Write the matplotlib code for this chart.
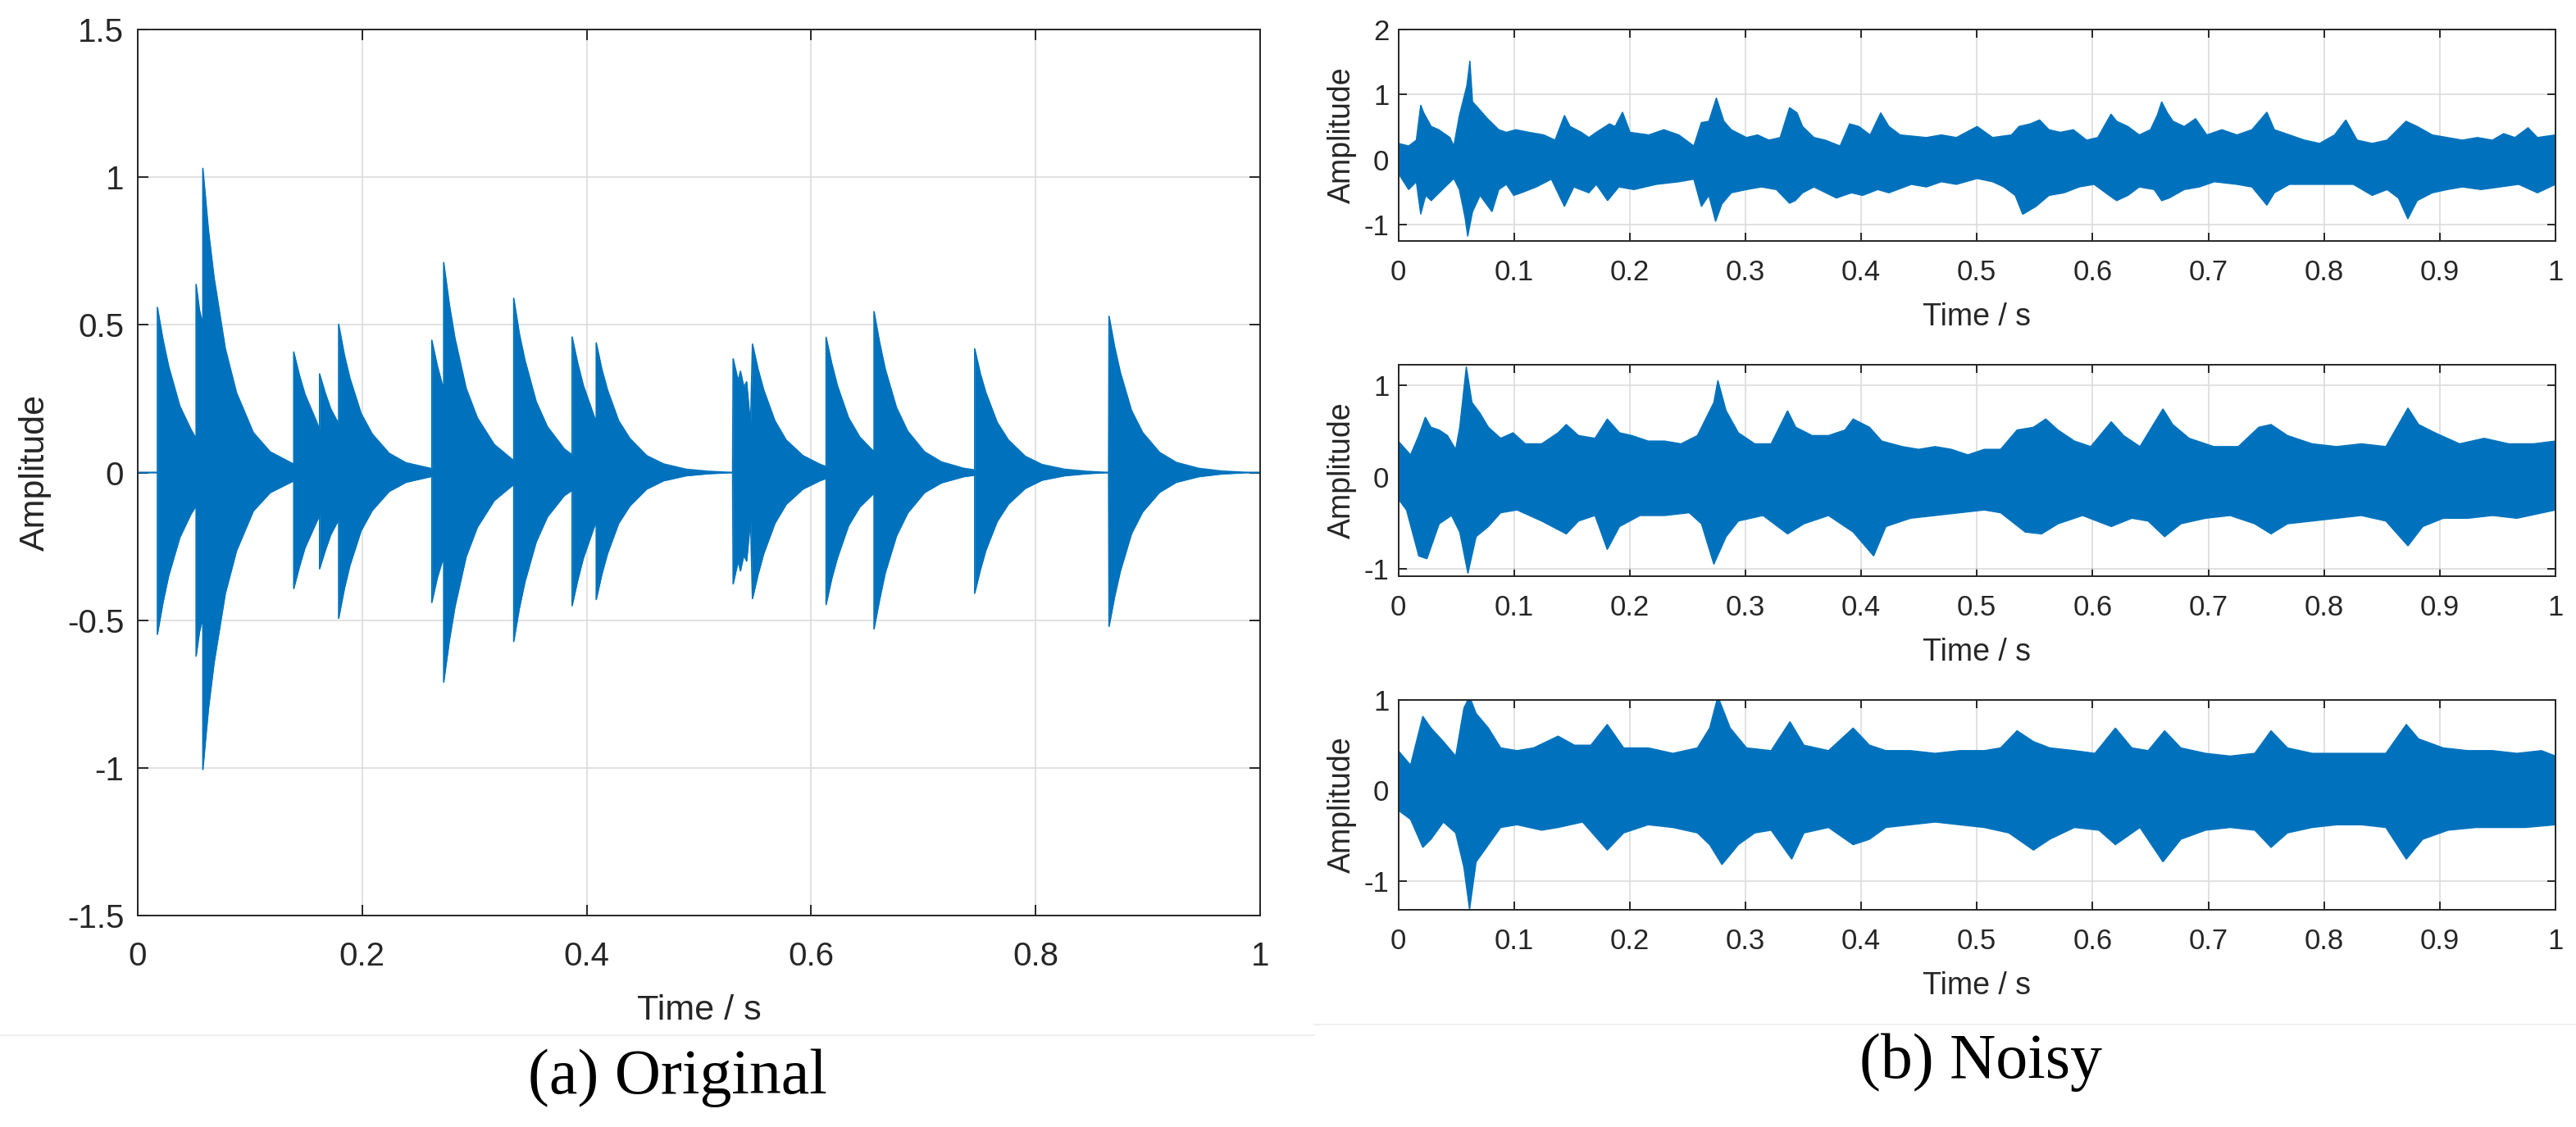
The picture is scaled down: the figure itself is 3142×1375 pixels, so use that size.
import numpy as np
import matplotlib
matplotlib.use("Agg")
import matplotlib.pyplot as plt
from matplotlib.lines import Line2D

plt.rcParams['font.family'] = ['Liberation Sans', 'DejaVu Sans']
plt.rcParams['axes.unicode_minus'] = False

BLUE = '#0072BD'

# ---------------- (a) Original: envelope vertices ----------------
orig_t = [0.0, 0.0175, 0.0175, 0.0225, 0.0275, 0.0375, 0.0475, 0.052,
          0.052, 0.055, 0.058,
          0.058, 0.063, 0.068, 0.078, 0.088, 0.103, 0.118, 0.138, 0.139,
          0.139, 0.144, 0.149, 0.159, 0.162,
          0.162, 0.167, 0.172, 0.179,
          0.179, 0.184, 0.189, 0.199, 0.209, 0.224, 0.239, 0.262,
          0.262, 0.267, 0.2726,
          0.2726, 0.2776, 0.2826, 0.2926, 0.3026, 0.3176, 0.335,
          0.335, 0.340, 0.345, 0.355, 0.365, 0.380, 0.387,
          0.387, 0.392, 0.397, 0.4085,
          0.4085, 0.4135, 0.4185, 0.4285, 0.4385, 0.4535, 0.4685, 0.4885, 0.5085, 0.530,
          0.5305, 0.535, 0.537, 0.540, 0.5425, 0.546, 0.5477, 0.5527, 0.5577, 0.5677, 0.5777, 0.5927, 0.6077, 0.6133,
          0.6133, 0.6183, 0.6233, 0.6333, 0.6433, 0.656,
          0.656, 0.661, 0.666, 0.676, 0.686, 0.701, 0.716, 0.736, 0.7457,
          0.7457, 0.7507, 0.7557, 0.7657, 0.7757, 0.7907, 0.8057, 0.8257, 0.8457, 0.865,
          0.8654, 0.8704, 0.8754, 0.8854, 0.8954, 0.9104, 0.9254, 0.9454, 0.9654, 0.990, 1.0]
orig_upper = [0.0, 0.0, 0.559, 0.45, 0.36, 0.225, 0.145, 0.115,
              0.637, 0.55, 0.50,
              1.03, 0.82, 0.66, 0.42, 0.27, 0.135, 0.07, 0.03, 0.028,
              0.408, 0.33, 0.265, 0.175, 0.145,
              0.334, 0.27, 0.215, 0.165,
              0.502, 0.40, 0.32, 0.20, 0.13, 0.065, 0.033, 0.013,
              0.448, 0.36, 0.28,
              0.711, 0.57, 0.455, 0.285, 0.185, 0.095, 0.04,
              0.59, 0.47, 0.38, 0.24, 0.155, 0.08, 0.06,
              0.459, 0.37, 0.295, 0.17,
              0.439, 0.35, 0.28, 0.175, 0.115, 0.057, 0.029, 0.011, 0.004, 0.0,
              0.385, 0.31, 0.343, 0.29, 0.307, 0.16, 0.435, 0.35, 0.28, 0.175, 0.11, 0.057, 0.028, 0.02,
              0.458, 0.37, 0.295, 0.185, 0.12, 0.07,
              0.545, 0.44, 0.35, 0.22, 0.14, 0.07, 0.036, 0.014, 0.009,
              0.419, 0.335, 0.27, 0.17, 0.11, 0.055, 0.027, 0.011, 0.004, 0.0,
              0.529, 0.425, 0.34, 0.21, 0.135, 0.068, 0.034, 0.014, 0.005, 0.0, 0.0]
orig_lower = [0.0, 0.0, -0.548, -0.44, -0.35, -0.22, -0.14, -0.113,
              -0.622, -0.54, -0.49,
              -1.006, -0.80, -0.645, -0.41, -0.265, -0.13, -0.068, -0.03, -0.028,
              -0.393, -0.32, -0.255, -0.17, -0.145,
              -0.326, -0.265, -0.21, -0.16,
              -0.494, -0.395, -0.315, -0.197, -0.128, -0.064, -0.033, -0.013,
              -0.44, -0.355, -0.285,
              -0.71, -0.57, -0.455, -0.285, -0.185, -0.095, -0.04,
              -0.572, -0.46, -0.37, -0.235, -0.15, -0.078, -0.06,
              -0.451, -0.365, -0.29, -0.165,
              -0.43, -0.345, -0.275, -0.172, -0.113, -0.056, -0.028, -0.011, -0.004, 0.0,
              -0.377, -0.30, -0.333, -0.28, -0.30, -0.16, -0.427, -0.345, -0.275, -0.172, -0.108, -0.056, -0.028, -0.02,
              -0.447, -0.36, -0.29, -0.18, -0.117, -0.07,
              -0.53, -0.43, -0.34, -0.215, -0.137, -0.068, -0.035, -0.014, -0.009,
              -0.409, -0.33, -0.263, -0.166, -0.107, -0.054, -0.026, -0.011, -0.004, 0.0,
              -0.521, -0.42, -0.335, -0.207, -0.133, -0.067, -0.033, -0.014, -0.005, 0.0, 0.0]

# ---------------- (b) Noisy: upper / lower envelope vertices ----------------
n1_t_up = [0.0, 0.009, 0.0156, 0.0194, 0.022, 0.0285, 0.035, 0.0447, 0.048, 0.0528, 0.0593, 0.0619, 0.0642,
           0.0707, 0.0771, 0.0869, 0.0934, 0.1015, 0.1128, 0.1258, 0.1355, 0.1436, 0.1485, 0.1582, 0.1647,
           0.1711, 0.1825, 0.1874, 0.1938, 0.2003, 0.2165, 0.2295, 0.2425, 0.2554, 0.2619, 0.2684, 0.2749,
           0.2814, 0.2878, 0.3008, 0.3105, 0.3203, 0.33, 0.3381, 0.3446, 0.3494, 0.3592, 0.3689, 0.3818,
           0.39, 0.398, 0.4078, 0.4169, 0.424, 0.4337, 0.4564, 0.4694, 0.4823, 0.5002, 0.5136, 0.5299,
           0.5364, 0.5461, 0.5542, 0.5623, 0.5721, 0.5834, 0.5948, 0.6045, 0.6159, 0.6208, 0.6305, 0.6403,
           0.65, 0.6558, 0.6597, 0.6646, 0.6695, 0.6792, 0.689, 0.6987, 0.7117, 0.7247, 0.7377, 0.7506,
           0.7571, 0.7701, 0.7831, 0.7961, 0.8091, 0.8188, 0.8286, 0.8416, 0.8545, 0.8708, 0.8805, 0.8935,
           0.9065, 0.9195, 0.9325, 0.9455, 0.9552, 0.9649, 0.9763, 0.9844, 1.0]
n1_up = [0.25, 0.21, 0.30, 0.84, 0.72, 0.51, 0.46, 0.34, 0.21, 0.68, 1.14, 1.52, 0.89,
         0.76, 0.63, 0.46, 0.42, 0.46, 0.42, 0.38, 0.30, 0.68, 0.51, 0.42, 0.34,
         0.42, 0.55, 0.51, 0.73, 0.42, 0.38, 0.46, 0.38, 0.21, 0.57, 0.59, 0.95,
         0.59, 0.46, 0.34, 0.38, 0.30, 0.34, 0.80, 0.72, 0.51, 0.34, 0.30, 0.21,
         0.55, 0.51, 0.38, 0.72, 0.51, 0.38, 0.34, 0.38, 0.34, 0.51, 0.34, 0.38,
         0.51, 0.55, 0.61, 0.46, 0.42, 0.46, 0.30, 0.34, 0.70, 0.59, 0.51, 0.38,
         0.46, 0.68, 0.89, 0.72, 0.59, 0.51, 0.63, 0.38, 0.46, 0.38, 0.46, 0.73,
         0.46, 0.38, 0.30, 0.25, 0.38, 0.61, 0.30, 0.25, 0.30, 0.59, 0.51, 0.38,
         0.34, 0.30, 0.34, 0.30, 0.40, 0.34, 0.49, 0.34, 0.38]
n1_t_lo = [0.0, 0.009, 0.0156, 0.0194, 0.0237, 0.0285, 0.0382, 0.048, 0.0528, 0.0577, 0.06, 0.0642, 0.0707,
           0.081, 0.0869, 0.0934, 0.0998, 0.1063, 0.1193, 0.1323, 0.1436, 0.1517, 0.1647, 0.1711, 0.1809,
           0.1906, 0.2036, 0.223, 0.2425, 0.2554, 0.2619, 0.2684, 0.2742, 0.2797, 0.2878, 0.3008, 0.3138,
           0.3267, 0.3381, 0.343, 0.3494, 0.3592, 0.3786, 0.3916, 0.4013, 0.4143, 0.424, 0.4434, 0.4564,
           0.4694, 0.4823, 0.5002, 0.5136, 0.5234, 0.5331, 0.5396, 0.551, 0.5623, 0.5753, 0.5883, 0.6013,
           0.6143, 0.6208, 0.6305, 0.6403, 0.6532, 0.6597, 0.6662, 0.6792, 0.6922, 0.7052, 0.7247, 0.7377,
           0.7506, 0.7571, 0.7701, 0.7896, 0.8091, 0.8253, 0.8416, 0.8545, 0.8643, 0.8724, 0.8805, 0.8935,
           0.9065, 0.9195, 0.9357, 0.9519, 0.9682, 0.9844, 1.0]
n1_lo = [-0.21, -0.46, -0.34, -0.84, -0.55, -0.63, -0.46, -0.29, -0.46, -0.89, -1.18, -0.80, -0.55,
         -0.80, -0.46, -0.38, -0.55, -0.51, -0.42, -0.30, -0.72, -0.42, -0.51, -0.38, -0.63,
         -0.42, -0.46, -0.38, -0.34, -0.30, -0.72, -0.55, -0.95, -0.68, -0.51, -0.46, -0.42,
         -0.46, -0.67, -0.63, -0.51, -0.42, -0.59, -0.51, -0.55, -0.46, -0.51, -0.38, -0.42,
         -0.34, -0.38, -0.29, -0.34, -0.42, -0.55, -0.84, -0.72, -0.55, -0.51, -0.42, -0.38,
         -0.55, -0.63, -0.55, -0.42, -0.46, -0.63, -0.59, -0.46, -0.42, -0.34, -0.38, -0.42,
         -0.70, -0.51, -0.38, -0.38, -0.38, -0.38, -0.55, -0.46, -0.59, -0.91, -0.63, -0.51,
         -0.46, -0.42, -0.46, -0.42, -0.38, -0.51, -0.38]

n2_t_up = [0.0, 0.0106, 0.0177, 0.0234, 0.0283, 0.0354, 0.0425, 0.0496, 0.0531, 0.0588, 0.0637, 0.0708,
           0.0779, 0.0885, 0.0992, 0.1098, 0.1239, 0.1381, 0.1452, 0.1558, 0.17, 0.1806, 0.1912, 0.2018,
           0.216, 0.2302, 0.2443, 0.2585, 0.2656, 0.2727, 0.2762, 0.2833, 0.2939, 0.3081, 0.3222, 0.3364,
           0.3435, 0.3576, 0.3718, 0.386, 0.3931, 0.4072, 0.4178, 0.4355, 0.4497, 0.4639, 0.478, 0.4922,
           0.5064, 0.5205, 0.5347, 0.5489, 0.5595, 0.5701, 0.5843, 0.5984, 0.6161, 0.6268, 0.6409, 0.6608,
           0.6692, 0.6834, 0.7047, 0.7259, 0.7436, 0.7542, 0.7684, 0.7897, 0.8109, 0.8322, 0.8534, 0.8725,
           0.8817, 0.8959, 0.9171, 0.9384, 0.9596, 0.9809, 1.0]
n2_up = [0.39, 0.24, 0.45, 0.65, 0.54, 0.51, 0.45, 0.30, 0.54, 1.20, 0.81, 0.69,
         0.54, 0.42, 0.48, 0.36, 0.36, 0.48, 0.57, 0.45, 0.42, 0.63, 0.48, 0.45,
         0.39, 0.39, 0.36, 0.45, 0.63, 0.81, 1.05, 0.72, 0.48, 0.36, 0.36, 0.72,
         0.54, 0.45, 0.45, 0.51, 0.63, 0.54, 0.39, 0.33, 0.30, 0.33, 0.30, 0.24,
         0.30, 0.30, 0.51, 0.54, 0.63, 0.51, 0.39, 0.33, 0.60, 0.45, 0.33, 0.74,
         0.57, 0.42, 0.33, 0.33, 0.54, 0.57, 0.45, 0.36, 0.33, 0.36, 0.33, 0.75,
         0.57, 0.48, 0.36, 0.42, 0.36, 0.36, 0.39]
n2_t_lo = [0.0, 0.0071, 0.0177, 0.0248, 0.0354, 0.046, 0.0531, 0.0602, 0.0673, 0.0779, 0.0885, 0.1027,
           0.1239, 0.1452, 0.1558, 0.17, 0.1806, 0.1912, 0.2089, 0.2302, 0.2514, 0.262, 0.2727, 0.2833,
           0.2939, 0.3152, 0.3364, 0.3506, 0.3718, 0.3931, 0.4108, 0.4214, 0.4426, 0.4639, 0.4851, 0.5064,
           0.5205, 0.5418, 0.5559, 0.5701, 0.5914, 0.6161, 0.6339, 0.648, 0.6622, 0.6763, 0.6976, 0.7188,
           0.7401, 0.7542, 0.7684, 0.7897, 0.8109, 0.8322, 0.8534, 0.8725, 0.8853, 0.903, 0.9242, 0.9455,
           0.9667, 1.0]
n2_lo = [-0.24, -0.36, -0.86, -0.89, -0.51, -0.42, -0.60, -1.05, -0.65, -0.54, -0.39, -0.36,
         -0.48, -0.62, -0.48, -0.42, -0.79, -0.54, -0.42, -0.42, -0.39, -0.51, -0.95, -0.65,
         -0.48, -0.42, -0.62, -0.51, -0.42, -0.60, -0.86, -0.54, -0.45, -0.42, -0.39, -0.36,
         -0.39, -0.60, -0.62, -0.51, -0.42, -0.54, -0.45, -0.48, -0.65, -0.51, -0.45, -0.42,
         -0.51, -0.62, -0.51, -0.48, -0.45, -0.42, -0.48, -0.75, -0.54, -0.45, -0.45, -0.42,
         -0.45, -0.36]

n3_t_up = [0.0, 0.0106, 0.0212, 0.0283, 0.039, 0.0496, 0.0567, 0.0616, 0.0673, 0.0779, 0.0885, 0.1027,
           0.1169, 0.1381, 0.1523, 0.1664, 0.1806, 0.1948, 0.216, 0.2373, 0.2585, 0.2691, 0.2762, 0.2868,
           0.301, 0.3222, 0.3385, 0.3506, 0.3718, 0.3931, 0.4072, 0.4214, 0.4426, 0.4639, 0.4851, 0.5064,
           0.5205, 0.5347, 0.5489, 0.563, 0.5843, 0.602, 0.6197, 0.6339, 0.648, 0.6622, 0.6763, 0.6976,
           0.7188, 0.7401, 0.7542, 0.7684, 0.7897, 0.8109, 0.8322, 0.8534, 0.8711, 0.8817, 0.903, 0.9242,
           0.9455, 0.9667, 0.9879, 1.0]
n3_up = [0.44, 0.28, 0.82, 0.69, 0.54, 0.38, 0.91, 1.04, 0.85, 0.69, 0.47, 0.44,
         0.47, 0.60, 0.50, 0.50, 0.73, 0.47, 0.47, 0.41, 0.47, 0.69, 1.04, 0.69,
         0.47, 0.44, 0.76, 0.50, 0.44, 0.69, 0.50, 0.44, 0.44, 0.41, 0.44, 0.44,
         0.47, 0.66, 0.54, 0.47, 0.44, 0.41, 0.69, 0.47, 0.44, 0.66, 0.47, 0.41,
         0.38, 0.41, 0.66, 0.47, 0.41, 0.41, 0.41, 0.41, 0.73, 0.57, 0.47, 0.44,
         0.44, 0.41, 0.44, 0.38]
n3_t_lo = [0.0, 0.0106, 0.0212, 0.0283, 0.039, 0.0496, 0.0567, 0.0616, 0.0673, 0.0779, 0.0885, 0.1027,
           0.1239, 0.1381, 0.1593, 0.1806, 0.1948, 0.216, 0.2373, 0.2585, 0.2691, 0.2797, 0.2939, 0.3081,
           0.3222, 0.34, 0.3506, 0.3718, 0.3931, 0.4072, 0.4214, 0.4426, 0.4639, 0.4851, 0.5064, 0.5276,
           0.5489, 0.563, 0.5843, 0.6055, 0.6197, 0.6409, 0.6608, 0.6763, 0.6976, 0.7188, 0.7401, 0.7542,
           0.7684, 0.7897, 0.8109, 0.8322, 0.8534, 0.8711, 0.8853, 0.9072, 0.9313, 0.9525, 0.9738, 1.0]
n3_lo = [-0.22, -0.32, -0.63, -0.54, -0.35, -0.47, -0.85, -1.32, -0.79, -0.60, -0.41, -0.38,
         -0.44, -0.41, -0.35, -0.66, -0.47, -0.38, -0.41, -0.47, -0.60, -0.82, -0.60, -0.47,
         -0.44, -0.76, -0.47, -0.41, -0.60, -0.54, -0.41, -0.38, -0.35, -0.38, -0.41, -0.47,
         -0.66, -0.54, -0.41, -0.44, -0.60, -0.41, -0.79, -0.54, -0.44, -0.41, -0.44, -0.63,
         -0.47, -0.41, -0.38, -0.38, -0.41, -0.76, -0.54, -0.44, -0.41, -0.41, -0.41, -0.38]

left_xticks = [0, 0.2, 0.4, 0.6, 0.8, 1]
left_xticklabels = ['0', '0.2', '0.4', '0.6', '0.8', '1']
left_yticks = [-1.5, -1, -0.5, 0, 0.5, 1, 1.5]
left_yticklabels = ['-1.5', '-1', '-0.5', '0', '0.5', '1', '1.5']
right_xticks = [0, 0.1, 0.2, 0.3, 0.4, 0.5, 0.6, 0.7, 0.8, 0.9, 1]
right_xticklabels = ['0', '0.1', '0.2', '0.3', '0.4', '0.5', '0.6', '0.7', '0.8', '0.9', '1']
noisy_yticks = [[-1, 0, 1, 2], [-1, 0, 1], [-1, 0, 1]]
noisy_ylims = [(-1.25, 2.0), (-1.08, 1.22), (-1.32, 1.0)]
captions = ['(a) Original', '(b) Noisy']

W, H = 3142, 1375
fig = plt.figure(figsize=(W / 100, H / 100), dpi=100)

AX_COLOR = '#262626'
GRID_COLOR = '#dcdcdc'


def style(ax, tick_size, label_size, ticklen, pad_x, pad_y):
    for s in ax.spines.values():
        s.set_color(AX_COLOR)
        s.set_linewidth(1.4)
    ax.tick_params(direction='in', top=True, right=True, length=ticklen, width=1.4,
                   colors=AX_COLOR, labelsize=tick_size)
    ax.tick_params(axis='x', pad=pad_x)
    ax.tick_params(axis='y', pad=pad_y)
    ax.grid(True, color=GRID_COLOR, linewidth=1.2)
    ax.set_axisbelow(True)


# ---- left axes
axL = fig.add_axes([168 / W, 1 - 1117 / H, 1369 / W, 1081 / H])
t = np.array(orig_t)
axL.fill_between(t, orig_lower, orig_upper, color=BLUE, linewidth=0, zorder=2)
axL.plot(t, orig_upper, color=BLUE, linewidth=1.2, zorder=2)
axL.plot(t, orig_lower, color=BLUE, linewidth=1.2, zorder=2)
axL.set_xlim(0, 1)
axL.set_ylim(-1.5, 1.5)
axL.set_xticks(left_xticks)
axL.set_xticklabels(left_xticklabels)
axL.set_yticks(left_yticks)
axL.set_yticklabels(left_yticklabels)
style(axL, 29, 31, 9.5, 22, 12)
axL.set_xlabel('Time / s', fontsize=31, color=AX_COLOR, labelpad=20)
axL.set_ylabel('Amplitude', fontsize=31, color=AX_COLOR, labelpad=14)

# ---- right axes
right_pos = [(36, 294), (445, 703), (854, 1110)]
noisy = [(n1_t_up, n1_up, n1_t_lo, n1_lo),
         (n2_t_up, n2_up, n2_t_lo, n2_lo),
         (n3_t_up, n3_up, n3_t_lo, n3_lo)]
for i, ((top, bot), (tu, vu, tl, vl)) in enumerate(zip(right_pos, noisy)):
    ax = fig.add_axes([1705.5 / W, 1 - bot / H, 1411.5 / W, (bot - top) / H])
    xs = np.concatenate([tu, tl[::-1]])
    ys = np.concatenate([vu, vl[::-1]])
    ax.fill(xs, ys, facecolor=BLUE, edgecolor=BLUE, linewidth=1.0, zorder=2)
    ax.set_xlim(0, 1)
    ax.set_ylim(*noisy_ylims[i])
    ax.set_xticks(right_xticks)
    ax.set_xticklabels(right_xticklabels)
    ax.set_yticks(noisy_yticks[i])
    ax.set_yticklabels([str(v) for v in noisy_yticks[i]])
    style(ax, 25, 27, 7, 16, 8)
    ax.set_xlabel('Time / s', fontsize=27, color=AX_COLOR, labelpad=14)
    ax.set_ylabel('Amplitude', fontsize=27, color=AX_COLOR, labelpad=6)

# ---- captions and faint panel separators
fig.text(826 / W, 1 - 1315 / H, captions[0], ha='center', va='center',
         fontsize=56, family=['Liberation Serif', 'DejaVu Serif'], color='black')
fig.text(2416 / W, 1 - 1296 / H, captions[1], ha='center', va='center',
         fontsize=56, family=['Liberation Serif', 'DejaVu Serif'], color='black')
fig.add_artist(Line2D([0, 1603 / W], [1 - 1263 / H] * 2, transform=fig.transFigure,
                      color='#ececec', linewidth=1.2))
fig.add_artist(Line2D([1603 / W, 1], [1 - 1250 / H] * 2, transform=fig.transFigure,
                      color='#ececec', linewidth=1.2))

fig.savefig('out.png', dpi=100, facecolor='white')
